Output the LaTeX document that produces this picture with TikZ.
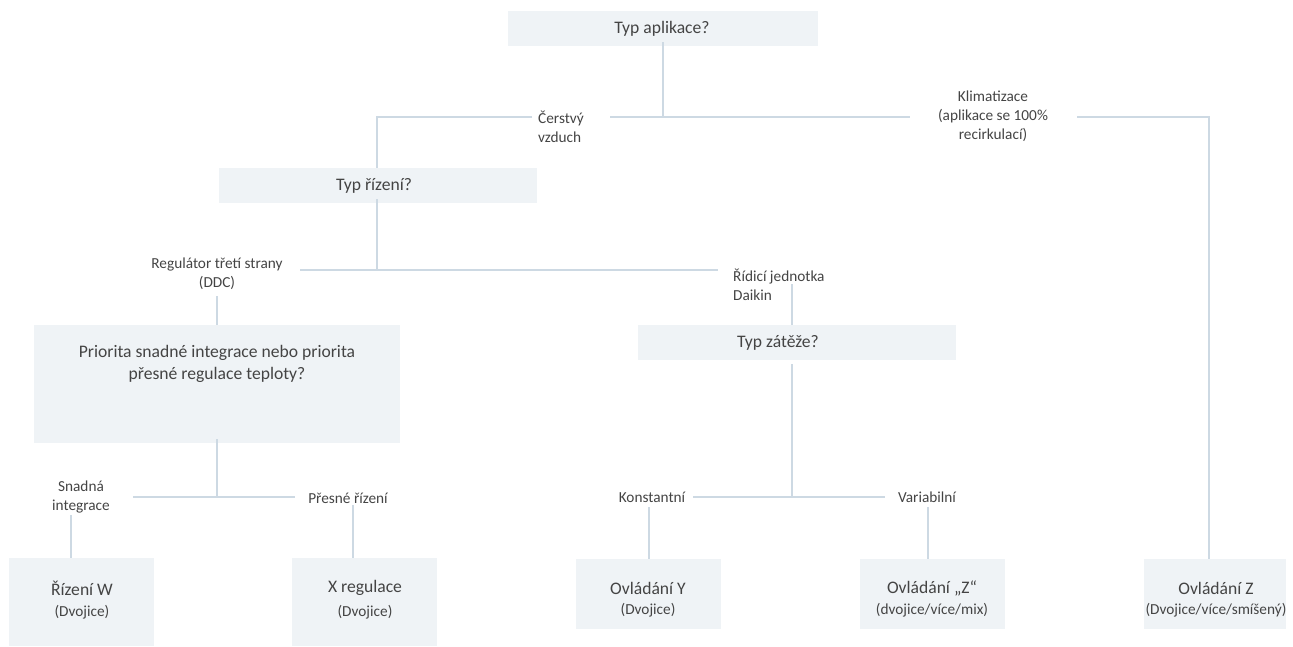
\documentclass[tikz,border=0pt]{standalone}
\usepackage{fontspec}
\setmainfont{Carlito}
\definecolor{boxfill}{HTML}{EFF3F6}
\definecolor{linec}{HTML}{CDD9E3}
\definecolor{txt}{HTML}{444444}
\tikzset{
  box/.style={fill=boxfill, draw=none, inner sep=0pt},
  title/.style={text=txt, inner sep=0pt, align=center, font=\fontsize{17.6}{22.5}\selectfont},
  subt/.style={text=txt, inner sep=0pt, align=center, font=\fontsize{15.3}{18}\selectfont},
  lbl/.style={text=txt, inner sep=0pt, font=\fontsize{15.3}{19}\selectfont},
  conn/.style={draw=linec, line width=1.4pt}
}
\begin{document}
\begin{tikzpicture}[x=1pt,y=-1pt]
\useasboundingbox (0,0) rectangle (1293,646);
% boxes
\node[box, minimum width=310, minimum height=35] (b1) at (663,28.5) {};
\node[box, minimum width=318, minimum height=35] (b2) at (378,185.5) {};
\node[box, minimum width=366, minimum height=118] (b3) at (217,384) {};
\node[box, minimum width=318, minimum height=35] (b4) at (797,342.5) {};
\node[box, minimum width=145, minimum height=88] (b5) at (81.5,602) {};
\node[box, minimum width=145, minimum height=88] (b6) at (364.5,602) {};
\node[box, minimum width=145, minimum height=70] (b7) at (648.5,594) {};
\node[box, minimum width=145, minimum height=70] (b8) at (932.5,594) {};
\node[box, minimum width=142, minimum height=70] (b9) at (1215,594) {};
% box texts
\node[title] (t1) at (662,28.5) {Typ aplikace?};
\node[title] (t2) at (374,185.5) {Typ řízení?};
\node[title] (t3) at (217,364) {Priorita snadné integrace nebo priorita\\přesné regulace teploty?};
\node[title] (t4) at (778,342.5) {Typ zátěže?};
\node[title] (t5) at (82,588) {Řízení W};
\node[subt] (s5) at (82,612) {(Dvojice)};
\node[title] (t6) at (365,588) {X regulace};
\node[subt] (s6) at (365,612) {(Dvojice)};
\node[title] (t7) at (648,588) {Ovládání Y};
\node[subt] (s7) at (648,610) {(Dvojice)};
\node[title] (t8) at (932,588) {Ovládání „Z“};
\node[subt] (s8) at (932,610) {(dvojice/více/mix)};
\node[title] (t9) at (1216,588) {Ovládání Z};
\node[subt] (s9) at (1216,610) {(Dvojice/více/smíšený)};
% labels
\node[lbl, align=left, anchor=west] (l1) at (538,127) {Čerstvý\\vzduch};
\node[lbl, align=center] (l2) at (993,116.5) {Klimatizace\\(aplikace se 100\%\\recirkulací)};
\node[lbl, align=center] (l3) at (217,274) {Regulátor třetí strany\\(DDC)};
\node[lbl, align=left, anchor=west] (l4) at (733,285) {Řídicí jednotka\\Daikin};
\node[lbl, align=center] (l5) at (81,497) {Snadná\\integrace};
\node[lbl] (l6) at (348,498) {Přesné řízení};
\node[lbl] (l7) at (652,497) {Konstantní};
\node[lbl] (l8) at (927,497) {Variabilní};
% junction coordinates
\coordinate (j1) at (663,117);
\coordinate (a1) at (532,117);
\coordinate (a2) at (610,117);
\coordinate (a3) at (910,117);
\coordinate (a4) at (1077,117);
\coordinate (a5) at (1209,117);
\coordinate (j2) at (377,270);
\coordinate (c1) at (300,270);
\coordinate (c2) at (718,270);
\coordinate (c3) at (217,296);
\coordinate (c4) at (792,284);
\coordinate (j3) at (217,497);
\coordinate (d1) at (133,497);
\coordinate (d2) at (295,497);
\coordinate (d3) at (71,515);
\coordinate (d4) at (353,505);
\coordinate (j4) at (792,497);
\coordinate (e1) at (693,497);
\coordinate (e2) at (885,497);
\coordinate (e3) at (649,507);
\coordinate (e4) at (928,507);
% connectors
\draw[conn] ([yshift=4]b1.south) -- (j1);
\draw[conn] (a1) -| ([xshift=-1]b2.north);
\draw[conn] (a2) -- (a3);
\draw[conn] (a4) -| (a5) -- (a5 |- b9.north);
\draw[conn] ([xshift=-1,yshift=4]b2.south) -- (j2);
\draw[conn] (c1) -- (c2);
\draw[conn] (c3) -- (b3.north);
\draw[conn] (c4) -- (c4 |- b4.north);
\draw[conn] ([yshift=4]b3.south) -- (j3);
\draw[conn] (d1) -- (d2);
\draw[conn] (d3) -- (d3 |- b5.north);
\draw[conn] (d4) -- (d4 |- b6.north);
\draw[conn] (c4 |- b4.south) ++(0,4) -- (j4);
\draw[conn] (e1) -- (e2);
\draw[conn] (e3) -- (e3 |- b7.north);
\draw[conn] (e4) -- (e4 |- b8.north);
\end{tikzpicture}
\end{document}
